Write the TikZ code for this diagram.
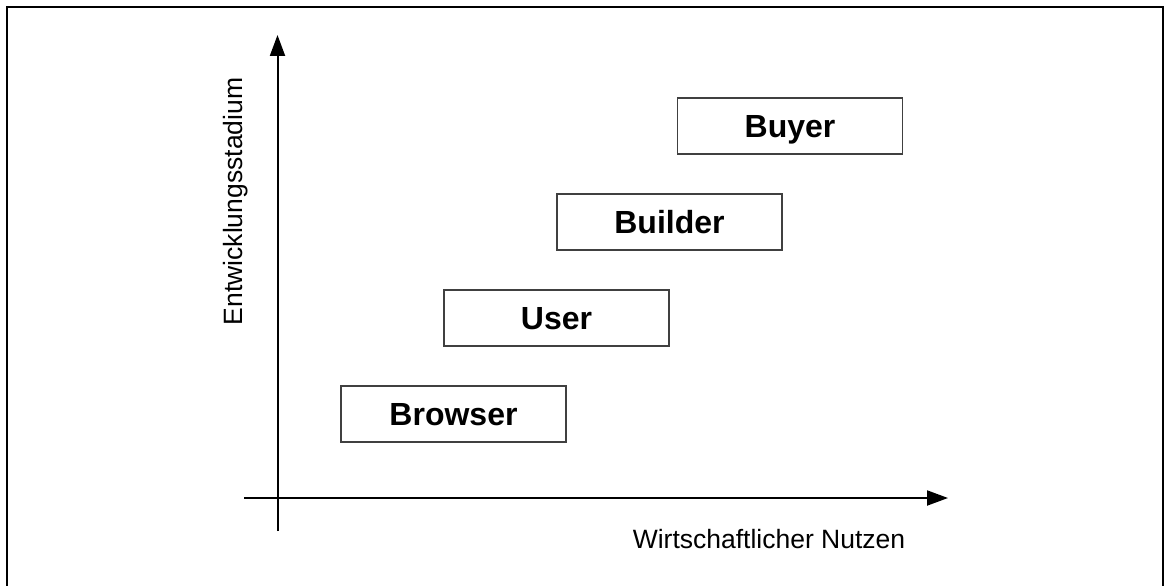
\documentclass[tikz,border=0pt]{standalone}
\usepackage{fontspec}
\setmainfont{Liberation Sans}
\usetikzlibrary{arrows.meta}
\begin{document}
\begin{tikzpicture}[x=1pt,y=-1pt,
  stagebox/.style={draw=black!75, line width=1.3pt, fill=white, minimum width=225pt, minimum height=56pt,
    inner sep=0pt, font=\fontsize{32}{36}\selectfont\bfseries, text height=22.9pt, text depth=0pt},
  axis/.style={line width=2pt, -{Triangle[length=21pt,width=15pt]}},
  axislabel/.style={font=\fontsize{26.5}{30}\selectfont, inner sep=0pt, anchor=base}]
\useasboundingbox (0,0) rectangle (1172,586);
\fill[white] (0,0) rectangle (1172,586);
\draw[line width=2.4pt] (7,600) -- (7,7) -- (1163,7) -- (1163,600);
% axes
\coordinate (ybot) at (277.5,531);
\coordinate (ytop) at (277.5,35);
\coordinate (xleft) at (244,498);
\coordinate (xright) at (948,498);
\draw[axis] (ybot) -- (ytop);
\draw[axis] (xleft) -- (xright);
% labels
\node[axislabel] (xl) at (769,548) {Wirtschaftlicher Nutzen};
\node[axislabel, rotate=90] (yl) at (242,201.5) {Entwicklungsstadium};
% boxes
\node[stagebox] (browser) at (453.5,414) {Browser};
\node[stagebox] (user) at (556.5,318) {User};
\node[stagebox] (builder) at (669.5,222) {Builder};
\node[stagebox] (buyer) at (790,126) {Buyer};
\end{tikzpicture}
\end{document}
